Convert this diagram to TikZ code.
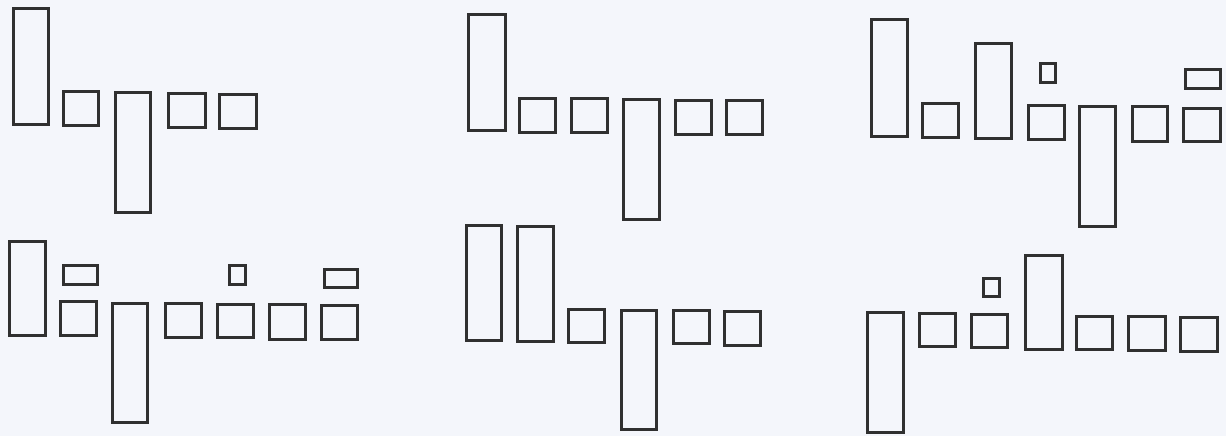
\documentclass[tikz,border=0pt]{standalone}
\usepackage{tikz}
\usetikzlibrary{positioning}
\definecolor{paper}{RGB}{244,246,251}
\definecolor{ink}{RGB}{48,48,48}

\begin{document}
\begin{tikzpicture}[x=1pt, y=-1pt, box/.style={draw=ink, line width=3pt}]
    % Page
    \fill[paper] (0,0) rectangle (1226,436);
    \useasboundingbox (0,0) rectangle (1226,436);

    % Top left
    \draw[box] (13,9) rectangle (48,124);
    \draw[box] (63,91) rectangle (98,125);
    \draw[box] (115,92) rectangle (150,212);
    \draw[box] (168,93) rectangle (205,127);
    \draw[box] (219,94) rectangle (256,128);

    % Top middle
    \draw[box] (468,15) rectangle (505,130);
    \draw[box] (519,98) rectangle (555,132);
    \draw[box] (571,98) rectangle (607,132);
    \draw[box] (623,99) rectangle (659,219);
    \draw[box] (675,100) rectangle (711,134);
    \draw[box] (726,100) rectangle (762,134);

    % Top right
    \draw[box] (871,20) rectangle (907,136);
    \draw[box] (922,103) rectangle (958,137);
    \draw[box] (975,44) rectangle (1011,138);
    \draw[box] (1040,64) rectangle (1055,82);
    \draw[box] (1028,105) rectangle (1064,139);
    \draw[box] (1079,106) rectangle (1115,226);
    \draw[box] (1132,106) rectangle (1167,141);
    \draw[box] (1185,70) rectangle (1220,88);
    \draw[box] (1183,108) rectangle (1220,141);

    % Bottom left
    \draw[box] (9,241) rectangle (45,335);
    \draw[box] (63,265) rectangle (97,284);
    \draw[box] (60,301) rectangle (96,335);
    \draw[box] (112,303) rectangle (147,422);
    \draw[box] (165,303) rectangle (201,337);
    \draw[box] (229,265) rectangle (245,284);
    \draw[box] (217,304) rectangle (253,337);
    \draw[box] (269,304) rectangle (305,339);
    \draw[box] (324,269) rectangle (357,287);
    \draw[box] (321,305) rectangle (357,339);

    % Bottom middle
    \draw[box] (466,225) rectangle (501,340);
    \draw[box] (517,226) rectangle (553,341);
    \draw[box] (568,309) rectangle (604,342);
    \draw[box] (621,310) rectangle (656,429);
    \draw[box] (673,310) rectangle (709,343);
    \draw[box] (724,311) rectangle (760,345);

    % Bottom right
    \draw[box] (867,312) rectangle (903,432);
    \draw[box] (919,313) rectangle (955,346);
    \draw[box] (983,278) rectangle (999,296);
    \draw[box] (971,314) rectangle (1007,347);
    \draw[box] (1025,255) rectangle (1062,349);
    \draw[box] (1076,316) rectangle (1112,349);
    \draw[box] (1128,316) rectangle (1165,350);
    \draw[box] (1180,317) rectangle (1217,351);
\end{tikzpicture}
\end{document}
